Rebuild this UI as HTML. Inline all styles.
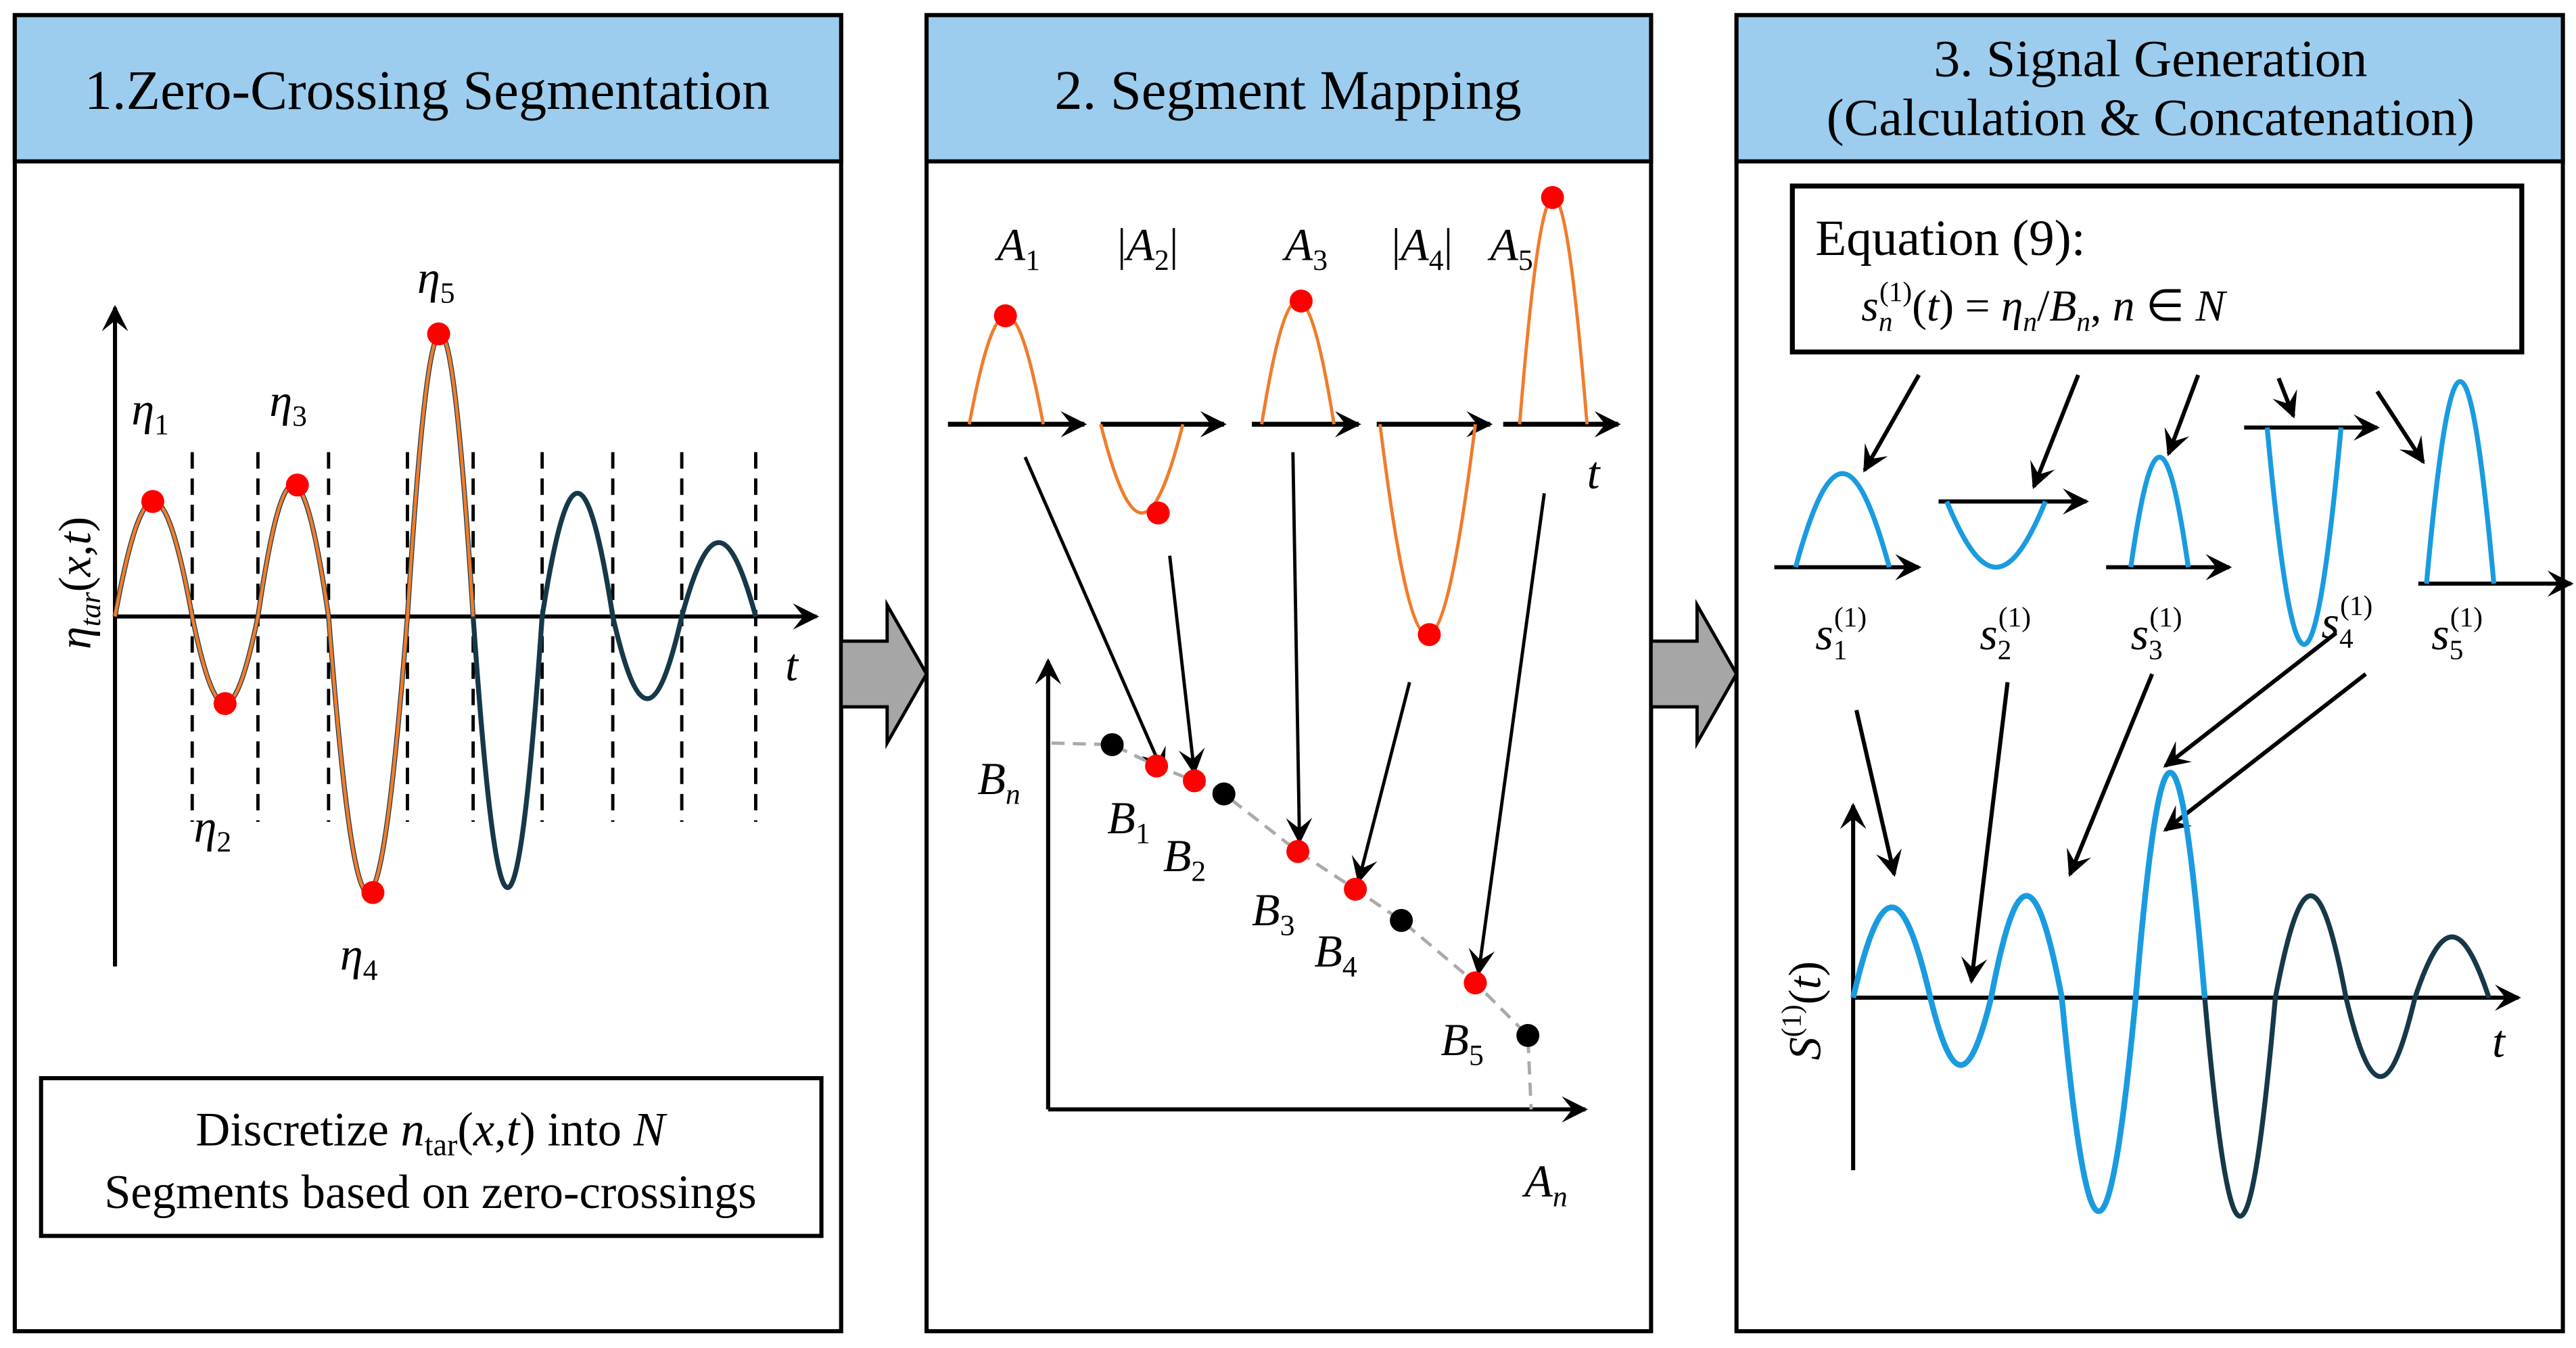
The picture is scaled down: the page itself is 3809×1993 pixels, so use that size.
<!DOCTYPE html>
<html><head><meta charset="utf-8"><style>
html,body{margin:0;padding:0;background:#fff}
svg{display:block}
text{font-family:"Liberation Serif",serif;fill:#000}
.i{font-style:italic}
</style></head><body>
<svg id="s" width="3809" height="1993" viewBox="0 0 1568 820" xmlns="http://www.w3.org/2000/svg">
<defs>
<marker id="ah" viewBox="0 0 10 10" refX="9" refY="5" markerWidth="5" markerHeight="5" orient="auto" markerUnits="userSpaceOnUse">
<path d="M0,0 L10,5 L0,10 L3,5 z" fill="#000"/></marker>
<marker id="ah2" viewBox="0 0 10 10" refX="9" refY="5" markerWidth="16" markerHeight="16" orient="auto" markerUnits="userSpaceOnUse">
<path d="M0,0 L10,5 L0,10 L4,5 z" fill="#000"/></marker>
<marker id="ah3" viewBox="0 0 10 10" refX="9" refY="5" markerWidth="22" markerHeight="22" orient="auto" markerUnits="userSpaceOnUse">
<path d="M0,0 L10,5 L0,10 L3.5,5 z" fill="#000"/></marker>
</defs>
<!-- panels -->
<g stroke="#000" stroke-width="2.5">
<rect x="9" y="9" width="503" height="801" fill="#fff"/>
<rect x="9" y="9" width="503" height="89" fill="#9ccdee"/>
<rect x="564" y="9" width="441" height="801" fill="#fff"/>
<rect x="564" y="9" width="441" height="89" fill="#9ccdee"/>
<rect x="1057" y="9" width="503" height="801" fill="#fff"/>
<rect x="1057" y="9" width="503" height="89" fill="#9ccdee"/>
<path d="M512,390 H540 V368 L564,410 L540,452 V430 H512 z" fill="#a6a6a6" stroke-width="2"/>
<path d="M1005,390 H1033 V368 L1057,410 L1033,452 V430 H1005 z" fill="#a6a6a6" stroke-width="2"/>
</g>
<text x="260" y="66" font-size="34" text-anchor="middle">1.Zero-Crossing Segmentation</text>
<text x="784" y="66" font-size="34" text-anchor="middle">2. Segment Mapping</text>
<text x="1309" y="46" font-size="32" text-anchor="middle">3. Signal Generation</text>
<text x="1309" y="82" font-size="32" text-anchor="middle">(Calculation &amp; Concatenation)</text>

<!-- panel 1 -->
<g stroke="#000" stroke-width="2.5" fill="none">
<line x1="70" y1="588" x2="70" y2="187" marker-end="url(#ah2)"/>
<line x1="70" y1="375" x2="497" y2="375" marker-end="url(#ah2)"/>
<g stroke-dasharray="10,6" stroke-width="2">
<line x1="117" y1="275" x2="117" y2="500"/><line x1="157" y1="275" x2="157" y2="500"/>
<line x1="200" y1="275" x2="200" y2="500"/><line x1="248" y1="275" x2="248" y2="500"/>
<line x1="288" y1="275" x2="288" y2="500"/><line x1="330" y1="275" x2="330" y2="500"/>
<line x1="373" y1="275" x2="373" y2="500"/><line x1="415" y1="275" x2="415" y2="500"/>
<line x1="460" y1="275" x2="460" y2="500"/>
</g>
</g>
<path id="w1d" fill="none" stroke="#163848" stroke-width="3"/>
<path id="w1o" fill="none" stroke="#f07c2c" stroke-width="2"/>
<g fill="#f00">
<circle cx="93" cy="305" r="7"/><circle cx="137" cy="428" r="7"/><circle cx="181" cy="295" r="7"/>
<circle cx="227" cy="543" r="7"/><circle cx="267" cy="203" r="7"/>
</g>
<g font-size="28" class="i">
<text x="80" y="258" class="i">η<tspan font-size="18" dy="6" font-style="normal">1</tspan></text>
<text x="118" y="512" class="i">η<tspan font-size="18" dy="6" font-style="normal">2</tspan></text>
<text x="164" y="253" class="i">η<tspan font-size="18" dy="6" font-style="normal">3</tspan></text>
<text x="207" y="590" class="i">η<tspan font-size="18" dy="6" font-style="normal">4</tspan></text>
<text x="254" y="178" class="i">η<tspan font-size="18" dy="6" font-style="normal">5</tspan></text>
<text x="478" y="414" class="i">t</text>
</g>
<text transform="translate(55,395) rotate(-90)" font-size="28" class="i">η<tspan font-size="18" dy="6">tar</tspan><tspan dy="-6" font-style="normal">(</tspan>x,t<tspan font-style="normal">)</tspan></text>
<rect x="25" y="656" width="475" height="96" fill="#fff" stroke="#000" stroke-width="2.5"/>
<text x="262" y="697" font-size="29" text-anchor="middle">Discretize <tspan class="i">n</tspan><tspan font-size="19" dy="6">tar</tspan><tspan dy="-6">(</tspan><tspan class="i">x</tspan>,<tspan class="i">t</tspan>) into <tspan class="i">N</tspan></text>
<text x="262" y="735" font-size="29" text-anchor="middle">Segments based on zero-crossings</text>

<!-- panel 2 -->
<g stroke="#000" stroke-width="3" fill="none">
<line x1="577" y1="258" x2="660" y2="258" marker-end="url(#ah2)"/>
<line x1="670" y1="258" x2="745" y2="258" marker-end="url(#ah2)"/>
<line x1="762" y1="258" x2="827" y2="258" marker-end="url(#ah2)"/>
<line x1="838" y1="258" x2="907" y2="258" marker-end="url(#ah2)"/>
<line x1="915" y1="258" x2="985" y2="258" marker-end="url(#ah2)"/>
</g>
<path id="p2" fill="none" stroke="#f07c2c" stroke-width="2"/>
<g fill="#f00"><circle cx="612" cy="192" r="7"/><circle cx="705" cy="312" r="7"/><circle cx="792" cy="183" r="7"/><circle cx="870" cy="386" r="7"/><circle cx="945" cy="120" r="7"/></g>
<g font-size="28" class="i">
<text x="607" y="158">A<tspan font-size="18" dy="6" font-style="normal">1</tspan></text>
<text x="680" y="158"><tspan font-style="normal">|</tspan>A<tspan font-size="18" dy="6" font-style="normal">2</tspan><tspan dy="-6" font-style="normal">|</tspan></text>
<text x="782" y="158">A<tspan font-size="18" dy="6" font-style="normal">3</tspan></text>
<text x="847" y="158"><tspan font-style="normal">|</tspan>A<tspan font-size="18" dy="6" font-style="normal">4</tspan><tspan dy="-6" font-style="normal">|</tspan></text>
<text x="907" y="158">A<tspan font-size="18" dy="6" font-style="normal">5</tspan></text>
<text x="966" y="297">t</text>
<text x="595" y="483">B<tspan font-size="18" dy="6">n</tspan></text>
<text x="674" y="507">B<tspan font-size="18" dy="6" font-style="normal">1</tspan></text>
<text x="708" y="530">B<tspan font-size="18" dy="6" font-style="normal">2</tspan></text>
<text x="762" y="563">B<tspan font-size="18" dy="6" font-style="normal">3</tspan></text>
<text x="800" y="588">B<tspan font-size="18" dy="6" font-style="normal">4</tspan></text>
<text x="877" y="642">B<tspan font-size="18" dy="6" font-style="normal">5</tspan></text>
<text x="928" y="728">A<tspan font-size="18" dy="6">n</tspan></text>
</g>
<g stroke="#000" stroke-width="2.5" fill="none">
<line x1="638" y1="675" x2="638" y2="402" marker-end="url(#ah2)"/>
<line x1="638" y1="675" x2="965" y2="675" marker-end="url(#ah2)"/>
</g>
<polyline points="640,452 677,453 704,466 727,475 745,483 790,518 825,541 853,560 898,598 930,630 932,675" fill="none" stroke="#aaa" stroke-width="2" stroke-dasharray="8,5"/>
<g stroke="#000" stroke-width="2" fill="none">
<line x1="624" y1="278" x2="708" y2="470" marker-end="url(#ah2)"/>
<line x1="712" y1="338" x2="727" y2="470" marker-end="url(#ah2)"/>
<line x1="787" y1="275" x2="791" y2="512" marker-end="url(#ah2)"/>
<line x1="858" y1="415" x2="827" y2="536" marker-end="url(#ah2)"/>
<line x1="940" y1="300" x2="900" y2="592" marker-end="url(#ah2)"/>
</g>
<g fill="#000"><circle cx="677" cy="453" r="7"/><circle cx="745" cy="483" r="7"/><circle cx="853" cy="560" r="7"/><circle cx="930" cy="630" r="7"/></g>
<g fill="#f00"><circle cx="704" cy="466" r="7"/><circle cx="727" cy="475" r="7"/><circle cx="790" cy="518" r="7"/><circle cx="825" cy="541" r="7"/><circle cx="898" cy="598" r="7"/></g>

<!-- panel 3 -->
<rect x="1091" y="113" width="444" height="101" fill="#fff" stroke="#000" stroke-width="3"/>
<text x="1105" y="155" font-size="31">Equation (9):</text>
<text x="1133" y="195" font-size="27" class="i">s<tspan font-size="17" dy="6">n</tspan><tspan font-size="17" dy="-18" dx="-8" font-style="normal">(1)</tspan><tspan dy="12" font-style="normal">(</tspan>t<tspan font-style="normal">) = </tspan>η<tspan font-size="17" dy="6">n</tspan><tspan dy="-6" font-style="normal">/</tspan>B<tspan font-size="17" dy="6">n</tspan><tspan dy="-6" font-style="normal">, </tspan>n<tspan font-style="normal"> ∈ </tspan>N</text>
<g stroke="#000" stroke-width="2.5" fill="none">
<line x1="1080" y1="345" x2="1168" y2="345" marker-end="url(#ah2)"/>
<line x1="1180" y1="305" x2="1270" y2="305" marker-end="url(#ah2)"/>
<line x1="1282" y1="345" x2="1357" y2="345" marker-end="url(#ah2)"/>
<line x1="1366" y1="260" x2="1447" y2="260" marker-end="url(#ah2)"/>
<line x1="1472" y1="355" x2="1565" y2="355" marker-end="url(#ah2)"/>
<line x1="1168" y1="228" x2="1135" y2="286" marker-end="url(#ah2)"/>
<line x1="1265" y1="228" x2="1238" y2="296" marker-end="url(#ah2)"/>
<line x1="1338" y1="228" x2="1320" y2="276" marker-end="url(#ah2)"/>
<line x1="1387" y1="230" x2="1396" y2="253" marker-end="url(#ah2)"/>
<line x1="1447" y1="238" x2="1475" y2="281" marker-end="url(#ah2)"/>
<line x1="1130" y1="432" x2="1153" y2="532" marker-end="url(#ah2)"/>
<line x1="1222" y1="415" x2="1200" y2="597" marker-end="url(#ah2)"/>
<line x1="1310" y1="410" x2="1260" y2="532" marker-end="url(#ah2)"/>
<line x1="1422" y1="385" x2="1318" y2="466" marker-end="url(#ah2)"/>
<line x1="1440" y1="410" x2="1318" y2="505" marker-end="url(#ah2)"/>
<line x1="1128" y1="712" x2="1128" y2="490" marker-end="url(#ah2)"/>
<line x1="1128" y1="607" x2="1533" y2="607" marker-end="url(#ah2)"/>
</g>
<path id="p3" fill="none" stroke="#1a9be0" stroke-width="3"/>
<path id="w3d" fill="none" stroke="#163848" stroke-width="3"/>
<path id="w3b" fill="none" stroke="#1a9be0" stroke-width="3.5"/>
<g font-size="28" class="i">
<text x="1105" y="395">s<tspan font-size="17" dy="6" font-style="normal">1</tspan><tspan font-size="17" dy="-20" dx="-8" font-style="normal">(1)</tspan></text>
<text x="1205" y="395">s<tspan font-size="17" dy="6" font-style="normal">2</tspan><tspan font-size="17" dy="-20" dx="-8" font-style="normal">(1)</tspan></text>
<text x="1297" y="395">s<tspan font-size="17" dy="6" font-style="normal">3</tspan><tspan font-size="17" dy="-20" dx="-8" font-style="normal">(1)</tspan></text>
<text x="1413" y="388">s<tspan font-size="17" dy="6" font-style="normal">4</tspan><tspan font-size="17" dy="-20" dx="-8" font-style="normal">(1)</tspan></text>
<text x="1480" y="395">s<tspan font-size="17" dy="6" font-style="normal">5</tspan><tspan font-size="17" dy="-20" dx="-8" font-style="normal">(1)</tspan></text>
<text x="1517" y="643">t</text>
</g>
<text transform="translate(1108,645) rotate(-90)" font-size="28" class="i">S<tspan font-size="17" dy="-12" font-style="normal">(1)</tspan><tspan dy="12" font-style="normal">(</tspan>t<tspan font-style="normal">)</tspan></text>
</svg>
<script>
function hs(a,b,base,py){var w=b-a,c=base+(py-base)*4/3;return " C"+(a+w*0.364)+","+c+" "+(a+w*0.636)+","+c+" "+b+","+base;}
function wave(xs,ps,base){var d="M"+xs[0]+","+base;for(var i=0;i<ps.length;i++)d+=hs(xs[i],xs[i+1],base,ps[i]);return d;}
function set(id,d){document.getElementById(id).setAttribute("d",d);}
var x1=[70,117,157,200,248,288,330,373,415,460],p1=[305,428,295,543,203,540,300,425,330];
set("w1d",wave(x1,p1,375));
set("w1o",wave(x1.slice(0,6),p1.slice(0,5),375));
set("p2",wave([590,635],[192],258)+" "+wave([670,720],[312],258)+" "+wave([768,812],[183],258)+" "+wave([840,898],[386],258)+" "+wave([925,966],[120],258));
set("p3",wave([1093,1150],[288],345)+" "+wave([1185,1245],[345],305)+" "+wave([1297,1332],[278],345)+" "+wave([1380,1425],[392],260)+" "+wave([1477,1518],[232],355));
var x3=[1128,1175,1212,1255,1300,1342,1385,1428,1470,1515],p3=[552,648,545,737,470,740,545,655,570];
set("w3d",wave(x3,p3,607));
set("w3b",wave(x3.slice(0,6),p3.slice(0,5),607));
</script>
</body></html>
